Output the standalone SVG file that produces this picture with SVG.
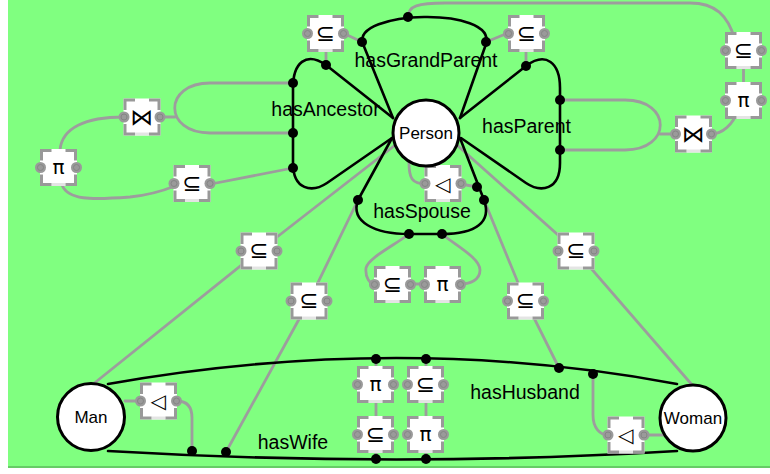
<svg xmlns="http://www.w3.org/2000/svg" xmlns:xlink="http://www.w3.org/1999/xlink" width="770" height="474" viewBox="0 0 770 474">
<style>
.bg{fill:#80ff80}
.g{fill:none;stroke:#9d9d9d;stroke-width:2.8;stroke-linecap:round}
.k{fill:none;stroke:#000;stroke-width:2.6;stroke-linecap:round;stroke-linejoin:round}
.dot{fill:#000}
.node{fill:#fff;stroke:#000;stroke-width:3}
.lbl{font-family:"Liberation Sans",Arial,sans-serif;font-size:19.5px;fill:#000;text-anchor:middle}
.nl{font-family:"Liberation Sans",Arial,sans-serif;font-size:17px;fill:#000;text-anchor:middle}
.op{font-family:"DejaVu Sans",sans-serif;font-size:20px;fill:#000;text-anchor:middle}
.sub{font-size:23px}
.join{font-size:23px}
</style>
<defs>
<g id="frame">
<rect x="-18.5" y="-18.5" width="37" height="37" fill="#fff"/>
<line x1="-7" y1="17" x2="7" y2="17" stroke="#e4e4e4" stroke-width="3"/>
<path d="M-17,-7V-17H-7M7,-17H17V-7M17,7V17H7M-7,17H-17V7" fill="none" stroke="#999" stroke-width="3"/>
<circle cx="-18" cy="0" r="5.5" fill="#9a9a9a"/>
<circle cx="-18" cy="0" r="3" fill="none" stroke="#858585" stroke-width="1"/>
<circle cx="18" cy="0" r="5.5" fill="#9a9a9a"/>
<circle cx="18" cy="0" r="3" fill="none" stroke="#858585" stroke-width="1"/>
</g>
</defs>
<rect class="bg" x="8" y="0" width="762" height="467"/>
<line x1="8" y1="467" x2="770" y2="467" stroke="#66cc66" stroke-width="2"/>

<g id="connectors">
<g id="gray">
<path class="g" d="M408,17C408,6 418,3 445,3L690,3C715,3 728,15 735,40"/>
<path class="g" d="M326,65V34M343,33L362,42"/>
<path class="g" d="M526,66V34M508,33L486,42"/>
<path class="g" d="M293,83L210,83C163,83 163,133 210,133L293,133M161,117L175,117"/>
<path class="g" d="M60,150C62,128 85,117 124,117"/>
<path class="g" d="M62,185C68,200 90,200 130,197C150,195 165,190 175,186"/>
<path class="g" d="M211,184L293,168"/>
<path class="g" d="M426,184C412,184 409,178 409,163M461,184L477,187"/>
<path class="g" d="M409,234C395,245 368,258 366,268C365,278 370,284 375,284M411,284H424M442,234C455,245 480,258 480,270C480,280 470,284 461,284"/>
<path class="g" d="M743.5,55V100M738,110C733,125 722,134 711,134"/>
<path class="g" d="M560,100L625,100C672,100 672,150 625,150L560,150M660,134H675"/>
<path class="g" d="M394,146L259,251L92,385"/>
<path class="g" d="M458,146L576,251L693,386"/>
<path class="g" d="M358,200L309,301L226,452"/>
<path class="g" d="M484,200L525.5,301L559,368"/>
<path class="g" d="M125,401H140M177,401C188,401 192,408 192,418L192,451"/>
<path class="g" d="M376,359V459M426,359V459"/>
<path class="g" d="M593,374L593,415C593,428 600,435 608,435M644,435H668"/>
</g>
<g id="black">
<path class="k" d="M393,118L363,44C351,10 497,6 486,44L460,118"/>
<path class="k" d="M393,118L326,65C306,51 293,63 293,88L293,163C293,190 312,193 327,183L392,138"/>
<path class="k" d="M460,118L526,66C546,51 560,63 560,88L560,163C560,190 541,193 526,183L461,138"/>
<path class="k" d="M392,138L358,200C350,222 375,234 409,234L442,234C476,234 492,222 484,200L460,138"/>
<path class="k" d="M108,384Q400,332 677,384"/>
<path class="k" d="M108,451Q400,468 677,451"/>
</g>
<g id="dots">
<circle class="dot" cx="408" cy="17" r="5"/>
<circle class="dot" cx="362" cy="42" r="5"/>
<circle class="dot" cx="486" cy="42" r="5"/>
<circle class="dot" cx="326" cy="65" r="5"/>
<circle class="dot" cx="526" cy="66" r="5"/>
<circle class="dot" cx="293" cy="83" r="5"/>
<circle class="dot" cx="293" cy="133" r="5"/>
<circle class="dot" cx="293" cy="168" r="5"/>
<circle class="dot" cx="560" cy="100" r="5"/>
<circle class="dot" cx="560" cy="150" r="5"/>
<circle class="dot" cx="358" cy="200" r="5"/>
<circle class="dot" cx="484" cy="200" r="5"/>
<circle class="dot" cx="477" cy="187" r="5"/>
<circle class="dot" cx="409" cy="234" r="5"/>
<circle class="dot" cx="442" cy="234" r="5"/>
<circle class="dot" cx="376" cy="359" r="5"/>
<circle class="dot" cx="426" cy="359" r="5"/>
<circle class="dot" cx="559" cy="368" r="5"/>
<circle class="dot" cx="593" cy="374" r="5"/>
<circle class="dot" cx="192" cy="451" r="5"/>
<circle class="dot" cx="226" cy="452" r="5"/>
<circle class="dot" cx="376" cy="459" r="5"/>
<circle class="dot" cx="426" cy="459" r="5"/>
</g>
</g>

<g id="labels">
<text class="lbl" x="426" y="67">hasGrandParent</text>
<text class="lbl" x="325.5" y="116">hasAncestor</text>
<text class="lbl" x="526.5" y="133">hasParent</text>
<text class="lbl" x="422" y="218">hasSpouse</text>
<text class="lbl" x="525" y="399">hasHusband</text>
<text class="lbl" x="293" y="449">hasWife</text>
</g>

<g id="op1" transform="translate(325.5,33.5)"><use xlink:href="#frame"/><text class="op sub" y="7">⊆</text></g>
<g id="op2" transform="translate(526.5,33.5)"><use xlink:href="#frame"/><text class="op sub" y="7">⊆</text></g>
<g id="op3" transform="translate(142,117)"><use xlink:href="#frame"/><text class="op join" y="8">⋈</text></g>
<g id="op4" transform="translate(58.5,167.5)"><use xlink:href="#frame"/><text class="op" y="6">π</text></g>
<g id="op5" transform="translate(192,183.5)"><use xlink:href="#frame"/><text class="op sub" y="7">⊆</text></g>
<g id="op6" transform="translate(443,183.5)"><use xlink:href="#frame"/><text class="op" y="7">◁︎</text></g>
<g id="op7" transform="translate(392.5,284.5)"><use xlink:href="#frame"/><text class="op sub" y="7">⊆</text></g>
<g id="op8" transform="translate(442.5,284.5)"><use xlink:href="#frame"/><text class="op" y="6">π</text></g>
<g id="op9" transform="translate(743.5,50.5)"><use xlink:href="#frame"/><text class="op sub" y="7">⊆</text></g>
<g id="op10" transform="translate(743.5,100.5)"><use xlink:href="#frame"/><text class="op" y="6">π</text></g>
<g id="op11" transform="translate(693.5,134)"><use xlink:href="#frame"/><text class="op join" y="8">⋈</text></g>
<g id="op12" transform="translate(259,251)"><use xlink:href="#frame"/><text class="op sub" y="7">⊆</text></g>
<g id="op13" transform="translate(309,301)"><use xlink:href="#frame"/><text class="op sub" y="7">⊆</text></g>
<g id="op14" transform="translate(525.5,301)"><use xlink:href="#frame"/><text class="op sub" y="7">⊆</text></g>
<g id="op15" transform="translate(576,251)"><use xlink:href="#frame"/><text class="op sub" y="7">⊆</text></g>
<g id="op16" transform="translate(158.5,401)"><use xlink:href="#frame"/><text class="op" y="7">◁︎</text></g>
<g id="op17" transform="translate(375.5,384.5)"><use xlink:href="#frame"/><text class="op" y="6">π</text></g>
<g id="op18" transform="translate(425.5,384.5)"><use xlink:href="#frame"/><text class="op sub" y="7">⊆</text></g>
<g id="op19" transform="translate(375.5,434.5)"><use xlink:href="#frame"/><text class="op sub" y="7">⊆</text></g>
<g id="op20" transform="translate(425.5,434.5)"><use xlink:href="#frame"/><text class="op" y="6">π</text></g>
<g id="op21" transform="translate(626,435)"><use xlink:href="#frame"/><text class="op" y="7">◁︎</text></g>

<g id="Person"><circle class="node" cx="426" cy="133" r="33"/><text class="nl" x="426" y="139">Person</text></g>
<g id="Man"><circle class="node" cx="91" cy="417" r="33.5"/><text class="nl" x="91" y="423">Man</text></g>
<g id="Woman"><circle class="node" cx="693" cy="418" r="33"/><text class="nl" x="693" y="424">Woman</text></g>
</svg>
